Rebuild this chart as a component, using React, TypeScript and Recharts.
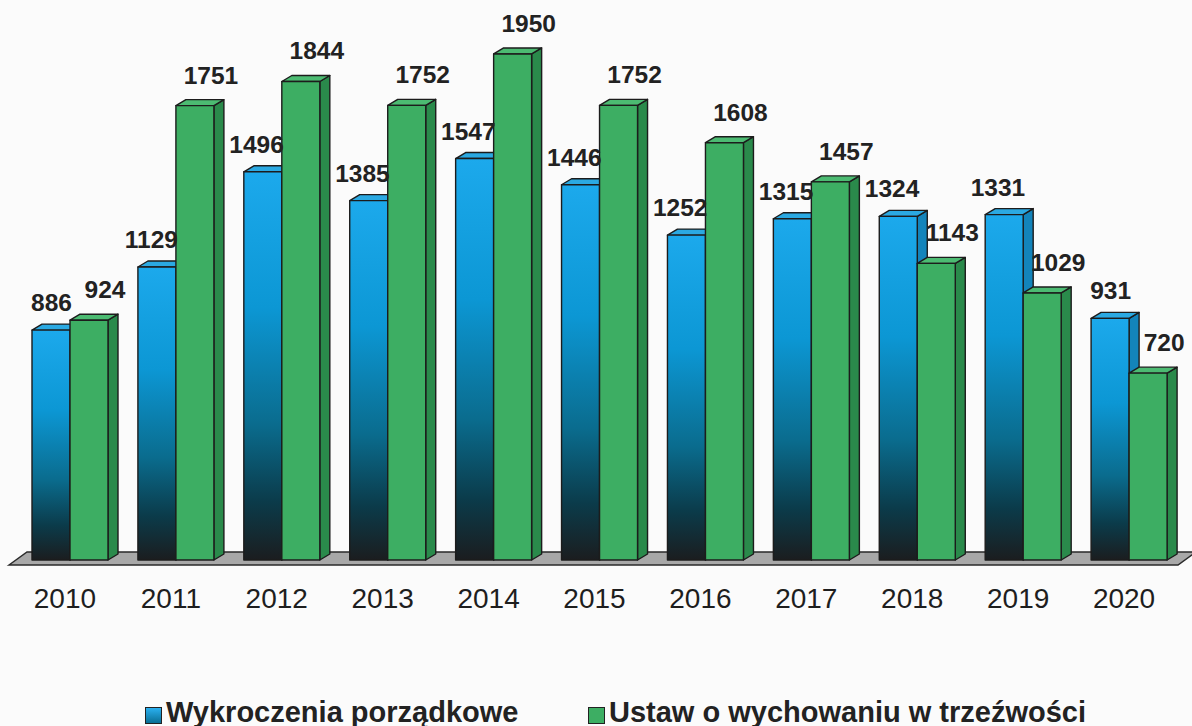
import { BarChart, Bar, XAxis, YAxis, LabelList, CartesianGrid } from 'recharts';

const years = ['2010', '2011', '2012', '2013', '2014', '2015', '2016', '2017', '2018', '2019', '2020'];
const wykroczenia = [886, 1129, 1496, 1385, 1547, 1446, 1252, 1315, 1324, 1331, 931];
const trzezwosc = [924, 1751, 1844, 1752, 1950, 1752, 1608, 1457, 1143, 1029, 720];

const data = years.map((year, i) => ({ year, wyk: wykroczenia[i], trz: trzezwosc[i] }));

const FONT = "'Liberation Sans', Arial, sans-serif";
const DX = 10;
const DY = -6;

function makeBox(front: string, top: string, side: string) {
  return (props: any) => {
    const { x, y, width: w, height: h } = props;
    if (!h || h <= 0) return null;
    return (
      <g stroke="#1c1c1c" strokeWidth={1.4} strokeLinejoin="round">
        <polygon points={`${x + w},${y} ${x + w + DX},${y + DY} ${x + w + DX},${y + h + DY} ${x + w},${y + h}`} fill={side} />
        <polygon points={`${x},${y} ${x + DX},${y + DY} ${x + w + DX},${y + DY} ${x + w},${y}`} fill={top} />
        <rect x={x} y={y} width={w} height={h} fill={front} />
      </g>
    );
  };
}

const BlueBox = makeBox('url(#blueGrad)', '#2ba9e2', '#1384bb');
const GreenBox = makeBox('#3dae63', '#4cbb72', '#2a8a4b');

// blue values sit right-aligned on the bar edge, green ones a bit right of centre
const blueLabel = (props: any) => {
  const { x, y, width, value } = props;
  return (
    <text x={x + width + 2} y={y - 19} textAnchor="end" fontFamily={FONT} fontWeight="bold" fontSize={24.5} fill="#222">
      {value}
    </text>
  );
};

const greenLabel = (props: any) => {
  const { x, y, width, value } = props;
  return (
    <text x={x + width / 2 + 16} y={y - 22} textAnchor="middle" fontFamily={FONT} fontWeight="bold" fontSize={24.5} fill="#222">
      {value}
    </text>
  );
};

// gray platform under the bars, drawn as the only grid line (at the plot bottom = value 0)
const Floor = (props: any) => {
  const { x1, x2, y1 } = props;
  const fy = y1 + 5;
  const by = y1 - 8;
  return (
    <polygon
      points={`${x1 - 8},${fy} ${x1 + 10},${by} ${x2 + 14},${by} ${x2 - 4},${fy}`}
      fill="#a8a8a8"
      stroke="#2a2a2a"
      strokeWidth={1.5}
    />
  );
};

function floorLine(args: any) {
  const o = args && args.offset;
  if (o && typeof o.top === 'number') return [o.top + o.height];
  return [560];
}

const YearTick = (props: any) => {
  const { x, y, payload } = props;
  return (
    <text x={x - 5} y={y + 48} textAnchor="middle" fontFamily={FONT} fontSize={28} fill="#1e1e1e">
      {payload.value}
    </text>
  );
};

const legendItems = [
  { name: 'Wykroczenia porządkowe', color: 'linear-gradient(#2ab0f0, #0a6f95)', left: 145 },
  { name: 'Ustaw o wychowaniu w trzeźwości', color: '#3dae63', left: 588 },
];

export default function App() {
  return (
    <div style={{ position: 'absolute', left: 0, top: 0, width: 1192, height: 726, background: '#fbfbfb', fontFamily: FONT }}>
      <BarChart
        width={1192}
        height={726}
        data={data}
        margin={{ top: 41, right: 10, bottom: 136, left: 17 }}
        barSize={38}
        barGap={0}
      >
        <defs>
          <linearGradient id="blueGrad" x1="0" y1="0" x2="0" y2="1">
            <stop offset="0%" stopColor="#1ca9ec" />
            <stop offset="35%" stopColor="#0c97d4" />
            <stop offset="65%" stopColor="#0a6c8e" />
            <stop offset="85%" stopColor="#0b3b4a" />
            <stop offset="100%" stopColor="#1b1d1f" />
          </linearGradient>
        </defs>
        <CartesianGrid
          vertical={false}
          horizontal={(p: any) => <Floor key="floor" {...p} />}
          horizontalCoordinatesGenerator={floorLine}
        />
        <XAxis dataKey="year" axisLine={false} tickLine={false} tickSize={0} tickMargin={0} height={30} tick={<YearTick />} interval={0} />
        <YAxis hide domain={[0, 2000]} />
        <Bar dataKey="wyk" shape={BlueBox} isAnimationActive={false}>
          <LabelList dataKey="wyk" content={blueLabel} />
        </Bar>
        <Bar dataKey="trz" shape={GreenBox} isAnimationActive={false}>
          <LabelList dataKey="trz" content={greenLabel} />
        </Bar>
      </BarChart>
      {legendItems.map((it) => (
        <div key={it.name} style={{ position: 'absolute', left: it.left, top: 696, display: 'flex', alignItems: 'center', whiteSpace: 'nowrap' }}>
          <span style={{ display: 'inline-block', width: 15, height: 15, background: it.color, border: '1.5px solid #222', marginRight: 4, marginTop: 6 }} />
          <span style={{ fontSize: 29, fontWeight: 'bold', color: '#222', lineHeight: '32px' }}>{it.name}</span>
        </div>
      ))}
    </div>
  );
}
